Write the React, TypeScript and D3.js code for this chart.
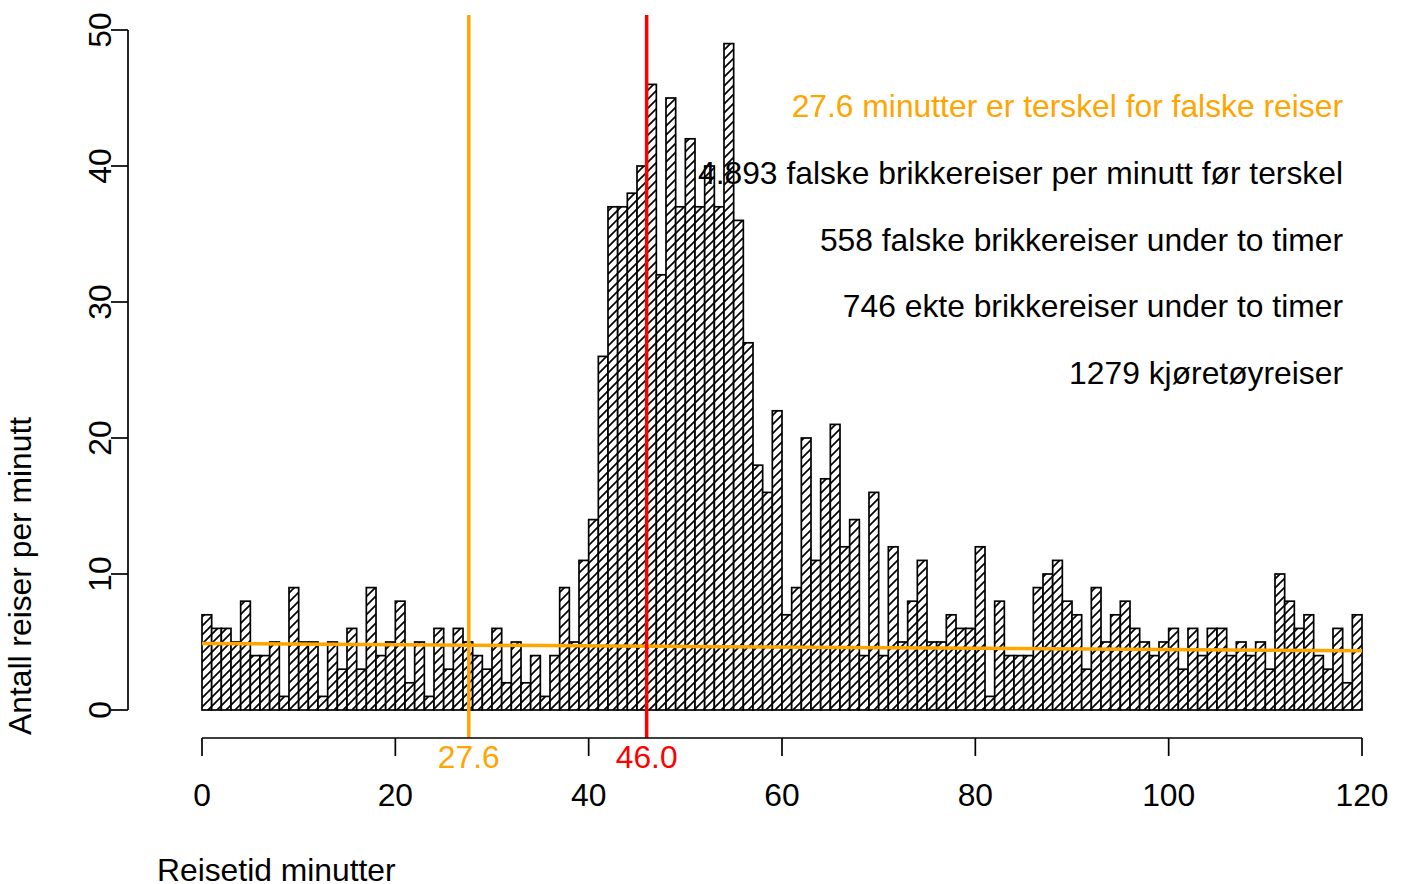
import React from "react";
import * as d3 from "d3";

const counts: number[] = [
  7, 6, 6, 5, 8, 4, 4, 5, 1, 9, 5, 5, 1, 5, 3, 6, 3, 9, 4, 5, 8,
  2, 5, 1, 6, 3, 6, 5, 4, 3, 6, 2, 5, 2, 4, 1, 4, 9, 5, 11, 14,
  26, 37, 37, 38, 40, 46, 32, 45, 37, 42, 37, 40, 37, 49, 36, 27, 18, 16, 22, 7,
  9, 20, 11, 17, 21, 12, 14, 4, 16, 4, 12, 5, 8, 11, 5, 5, 7, 6, 6, 12,
  1, 8, 4, 4, 4, 9, 10, 11, 8, 7, 3, 9, 5, 7, 8, 6, 5, 4, 5, 6,
  3, 6, 4, 6, 6, 4, 5, 4, 5, 3, 10, 8, 6, 7, 4, 3, 6, 2, 7,
];
const xTicks: number[] = [0, 20, 40, 60, 80, 100, 120];
const yTicks: number[] = [0, 10, 20, 30, 40, 50];
const thresholdFalse = 27.6;
const thresholdMode = 46.0;
const baseLine: { x: number; y: number }[] = [
  { x: 0, y: 4.893 },
  { x: 120, y: 4.36 },
];
const annotations: { text: string; color: string }[] = [
  { text: "27.6 minutter er terskel for falske reiser", color: "#FFA500" },
  { text: "4.893 falske brikkereiser per minutt før terskel", color: "#000000" },
  { text: "558 falske brikkereiser under to timer", color: "#000000" },
  { text: "746 ekte brikkereiser under to timer", color: "#000000" },
  { text: "1279 kjøretøyreiser", color: "#000000" },
];
const xLabel = "Reisetid minutter";
const yLabel = "Antall reiser per minutt";

const W = 1403;
const H = 884;
const FONT = "'Liberation Sans', Arial, Helvetica, sans-serif";
const FS = 31.8;
const ORANGE = "#FFA500";
const RED = "#FF0000";

export default function App() {
  const x = d3.scaleLinear().domain([0, 120]).range([202, 1362]);
  const y = d3.scaleLinear().domain([0, 50]).range([710, 30]);
  const axisY = 738;
  const axisX = 128;
  const line = d3
    .line<{ x: number; y: number }>()
    .x((d) => x(d.x))
    .y((d) => y(d.y));

  return (
    <svg
      width={W}
      height={H}
      style={{ position: "absolute", left: 0, top: 0, background: "#fff" }}
      fontFamily={FONT}
    >
      <defs>
        <pattern id="hatch" patternUnits="userSpaceOnUse" width={9} height={9}>
          <rect width={9} height={9} fill="#fff" />
          <path
            d="M-1,10 L10,-1 M-4,4 L4,-4 M5,13 L13,5"
            stroke="#000"
            strokeWidth={1.7}
          />
        </pattern>
      </defs>
      <rect width={W} height={H} fill="#fff" />

      {/* bars */}
      {counts.map((c, i) => (
        <rect
          key={i}
          x={x(i)}
          y={y(c)}
          width={x(i + 1) - x(i)}
          height={y(0) - y(c)}
          fill="url(#hatch)"
          stroke="#000"
          strokeWidth={1.7}
        />
      ))}

      {/* baseline of false trips */}
      <path d={line(baseLine) || ""} stroke={ORANGE} strokeWidth={3.5} fill="none" />

      {/* vertical threshold lines */}
      <line
        x1={x(thresholdFalse)}
        x2={x(thresholdFalse)}
        y1={y(51.1)}
        y2={axisY}
        stroke={ORANGE}
        strokeWidth={3.5}
      />
      <line
        x1={x(thresholdMode)}
        x2={x(thresholdMode)}
        y1={y(51.1)}
        y2={axisY}
        stroke={RED}
        strokeWidth={3.5}
      />

      {/* x axis */}
      <line x1={x(0)} x2={x(120)} y1={axisY} y2={axisY} stroke="#000" strokeWidth={1.7} />
      {xTicks.map((t) => (
        <g key={t}>
          <line x1={x(t)} x2={x(t)} y1={axisY} y2={axisY + 18} stroke="#000" strokeWidth={1.7} />
          <text x={x(t)} y={806} textAnchor="middle" fontSize={FS} fill="#000">
            {t}
          </text>
        </g>
      ))}
      <text x={x(thresholdFalse)} y={768} textAnchor="middle" fontSize={FS} fill={ORANGE}>
        {thresholdFalse.toFixed(1)}
      </text>
      <text x={x(thresholdMode)} y={768} textAnchor="middle" fontSize={FS} fill={RED}>
        {thresholdMode.toFixed(1)}
      </text>

      {/* y axis */}
      <line x1={axisX} x2={axisX} y1={y(0)} y2={y(50)} stroke="#000" strokeWidth={1.7} />
      {yTicks.map((t) => (
        <g key={t}>
          <line x1={axisX - 17} x2={axisX} y1={y(t)} y2={y(t)} stroke="#000" strokeWidth={1.7} />
          <text
            transform={`translate(${111},${y(t)}) rotate(-90)`}
            textAnchor="middle"
            fontSize={FS}
            fill="#000"
          >
            {t}
          </text>
        </g>
      ))}

      {/* annotations */}
      {annotations.map((a, i) => (
        <text
          key={i}
          x={1343}
          y={117 + i * 66.8}
          textAnchor="end"
          fontSize={FS}
          fill={a.color}
        >
          {a.text}
        </text>
      ))}

      {/* axis titles */}
      <text x={157} y={881} fontSize={FS} fill="#000">
        {xLabel}
      </text>
      <text
        transform={`translate(${31},${735}) rotate(-90)`}
        textAnchor="start"
        fontSize={FS}
        fill="#000"
      >
        {yLabel}
      </text>
    </svg>
  );
}
